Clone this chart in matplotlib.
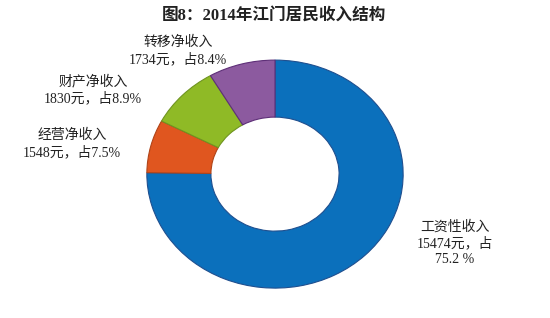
import matplotlib
matplotlib.use('Agg')
import matplotlib.pyplot as plt

plt.rcParams['font.family'] = ['Liberation Serif', 'Noto Sans CJK SC', 'DejaVu Sans']

# data
names = ['工资性收入', '经营净收入', '财产净收入', '转移净收入']
amounts = [15474, 1548, 1830, 1734]
shares = [75.2, 7.5, 8.9, 8.4]
colors = ['#0B70BC', '#E0561F', '#8FBA26', '#8C5A9F']
edges = ['#1F4F8F', '#B04418', '#6F9420', '#5E2F78']

fig = plt.figure(figsize=(5.5, 3.18), dpi=100)
ax = fig.add_axes([0.267, 0.094, 0.466, 0.717])

wedges, _ = ax.pie(shares, colors=colors, startangle=90, counterclock=False,
                   radius=1, wedgeprops=dict(width=0.5, linewidth=0.8))
for w, ec in zip(wedges, edges):
    w.set_edgecolor(ec)
ax.set_aspect('auto')
ax.set_xlim(-1, 1)
ax.set_ylim(-1, 1)

fig.text(0.498, 0.952, '图8：2014年江门居民收入结构', ha='center', va='center',
         fontsize=12, fontweight='bold', color='#222222')

# label positions in figure pixels (x, y from top)
label_pos = [(455, 243), (72, 144), (93, 90), (178, 51)]
for i in range(len(names)):
    if i == 0:
        txt = '%s\n%d元，占\n%.1f %%' % (names[i], amounts[i], shares[i])
    else:
        txt = '%s\n%d元，占%.1f%%' % (names[i], amounts[i], shares[i])
    x, y = label_pos[i]
    fig.text(x / 550, 1 - y / 318, txt, ha='center', va='center',
             fontsize=10, color='#222222', linespacing=1.25)

fig.savefig('out.png', dpi=100)
